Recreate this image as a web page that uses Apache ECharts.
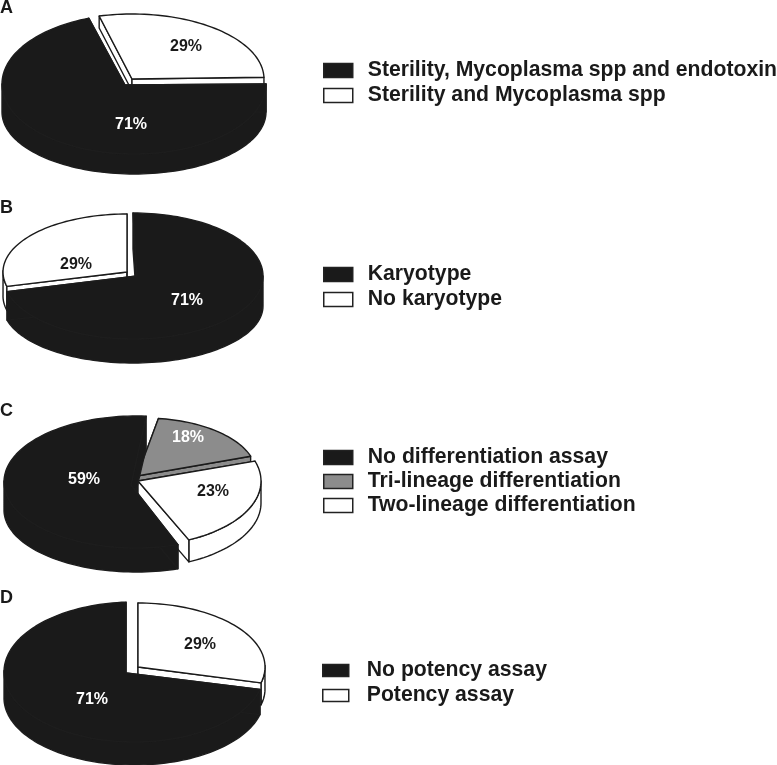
<!DOCTYPE html>
<html><head><meta charset="utf-8">
<style>html,body{margin:0;padding:0;background:#fff}#c{width:777px;height:765px}</style>
<script src="https://cdn.jsdelivr.net/npm/echarts@6/dist/echarts.min.js"></script>
</head><body><div id="c"></div>
<script>
// ---- data ----
const panelLetters = ['A', 'B', 'C', 'D'];
const categoriesA = ['Sterility, Mycoplasma spp and endotoxin', 'Sterility and Mycoplasma spp'];
const valuesA = [71, 29];
const categoriesB = ['Karyotype', 'No karyotype'];
const valuesB = [71, 29];
const categoriesC = ['No differentiation assay', 'Tri-lineage differentiation', 'Two-lineage differentiation'];
const valuesC = [59, 18, 23];
const categoriesD = ['No potency assay', 'Potency assay'];
const valuesD = [71, 29];
const coloursA = ['#1a1a1a', '#ffffff'];
const coloursC = ['#1a1a1a', '#8c8c8c', '#ffffff'];

// ---- layout of the tilted, exploded pies (styling only) ----
// apex ax,ay; ellipse ex,ey,rx,ry; bottom face drop,bry; trim of arc ends in degrees; label lx,ly; z order
const panels = [
  { letter: 0, cats: categoriesA, vals: valuesA, cols: coloursA, start: 0,
    legend: { left: 323, top: 60, w: 29, h: 14, gap: 4, pad: 10 },
    geo: [
      { ax: 125, ay: 85, ex: 134, ey: 84, rx: 132, ry: 70, drop: 28, bry: 62, trim: [0, -5.6], lx: 131, ly: 125, z: 2 },
      { ax: 132, ay: 79, ex: 132, ey: 79, rx: 132, ry: 65, drop: 12, bry: 65, trim: [0, -1.5], lx: 186, ly: 47, z: 1 }
    ] },
  { letter: 1, cats: categoriesB, vals: valuesB, cols: coloursA, start: 270,
    legend: { left: 323, top: 264, w: 29, h: 14, gap: 4, pad: 10 },
    geo: [
      { ax: 137, ay: 276, ex: 133, ey: 276, rx: 130, ry: 63, drop: 30, bry: 57, trim: [0, 0], lx: 187, ly: 301, z: 2 },
      { ax: 127, ay: 272, ex: 127, ey: 272, rx: 124, ry: 58, drop: 24, bry: 58, trim: [0, 0], lx: 76, ly: 265, z: 1 }
    ] },
  { letter: 2, cats: categoriesC, vals: valuesC, cols: coloursC, start: 65,
    legend: { left: 323, top: 447, w: 29, h: 14, gap: 3, pad: 10 },
    geo: [
      { ax: 131, ay: 485, ex: 136, ey: 482, rx: 132, ry: 66, drop: 28, bry: 62, trim: [6.5, -3], lx: 84, ly: 480, z: 3 },
      { ax: 137, ay: 476, ex: 144, ey: 473, rx: 112, ry: 55, drop: 23, bry: 55, trim: [0, 0], lx: 188, ly: 438, z: 1 },
      { ax: 138, ay: 481, ex: 136, ey: 481, rx: 125, ry: 65, drop: 22, bry: 65, trim: [0, 0], lx: 213, ly: 492, z: 2 }
    ] },
  { letter: 3, cats: categoriesD, vals: valuesD, cols: coloursA, start: 14.4,
    legend: { left: 322, top: 660, w: 26, h: 12, gap: 4, pad: 13 },
    geo: [
      { ax: 126, ay: 673, ex: 134, ey: 672, rx: 130, ry: 70, drop: 26, bry: 67, trim: [0, -3.5], lx: 92, ly: 700, z: 2 },
      { ax: 138, ay: 667, ex: 138, ey: 667, rx: 127, ry: 64, drop: 22, bry: 64, trim: [0, 0], lx: 200, ly: 645, z: 1 }
    ] }
];
const letterTops = [-1, 199, 402, 589];
const FONT = '"Liberation Sans", Arial, sans-serif';

function arcAngles(a0, a1) {
  const out = [], n = Math.max(4, Math.ceil(Math.abs(a1 - a0) / 2));
  for (let i = 0; i <= n; i++) out.push((a0 + (a1 - a0) * i / n) * Math.PI / 180);
  return out;
}
function at(g, t, cy, ry) { return [g.ex + g.rx * Math.cos(t), cy + ry * Math.sin(t)]; }

function sliceRenderer(g, a0, a1, colour) {
  return function (params, api) {
    const value = api.value(0);
    const ts = arcAngles(a0, a1);
    const top = ts.map(function (t) { return at(g, t, g.ey, g.ry); });
    const isBlack = colour === '#1a1a1a';
    const style = { fill: colour, stroke: isBlack ? '#1d1d1d' : '#1a1a1a', lineWidth: 1.4, lineJoin: 'round' };
    const poly = function (pts) { return { type: 'polygon', shape: { points: pts }, style: style }; };
    const apex = [g.ax, g.ay], apexB = [g.ax, g.ay + g.drop];
    const children = [];
    // rim wall only where the rim faces the viewer
    let run = [];
    const flush = function () {
      if (run.length > 1) {
        const up = run.map(function (t) { return at(g, t, g.ey, g.ry); });
        const dn = run.map(function (t) { return at(g, t, g.ey + g.drop, g.bry); }).reverse();
        children.push(poly(up.concat(dn)));
      }
      run = [];
    };
    ts.forEach(function (t) { if (Math.sin(t) >= -0.03) run.push(t); else flush(); });
    flush();
    [ts[0], ts[ts.length - 1]].forEach(function (t) {
      const c = at(g, t, g.ey, g.ry), cb = at(g, t, g.ey + g.drop, g.bry);
      children.push(poly([apex, c, cb, apexB]));
    });
    children.push(poly([apex].concat(top)));
    children.push({ type: 'text', x: g.lx, y: g.ly, z2: 10,
      style: { text: value + '%', x: 0, y: 0, align: 'center', verticalAlign: 'middle',
        fill: colour === '#ffffff' ? '#1a1a1a' : '#ffffff', font: 'bold 16px ' + FONT } });
    return { type: 'group', children: children };
  };
}

const series = [], legends = [], titles = [];
panels.forEach(function (p, pi) {
  let acc = p.start;
  p.vals.forEach(function (v, i) {
    const span = v / 100 * 360, g = p.geo[i];
    series.push({
      type: 'custom', coordinateSystem: 'none', name: p.cats[i], z: 2 + g.z,
      itemStyle: { color: p.cols[i], borderColor: '#222', borderWidth: 1.5 },
      renderItem: sliceRenderer(g, acc + g.trim[0], acc + span + g.trim[1], p.cols[i]),
      data: [[v]], silent: true, animation: false
    });
    acc += span;
  });
  const L = p.legend;
  legends.push({
    show: true, left: L.left, top: L.top, orient: 'vertical', padding: 0,
    itemWidth: L.w, itemHeight: L.h, itemGap: L.gap, selectedMode: false, icon: 'rect',
    data: p.cats.map(function (c, i) {
      return { name: c, icon: 'rect', itemStyle: { color: p.cols[i], borderColor: '#222', borderWidth: 1.5 } };
    }),
    textStyle: { fontFamily: FONT, fontSize: 21.2, fontWeight: 'bold', color: '#1a1a1a', padding: [0, 0, 0, L.pad] }
  });
  titles.push({ text: panelLetters[p.letter], left: 0, top: letterTops[pi], padding: 0,
    textStyle: { fontFamily: FONT, fontSize: 18, fontWeight: 'bold', color: '#1a1a1a' } });
});

const chart = echarts.init(document.getElementById('c'), null, { renderer: 'canvas' });
chart.setOption({ animation: false, backgroundColor: '#fff', title: titles, legend: legends, series: series });
</script></body></html>
